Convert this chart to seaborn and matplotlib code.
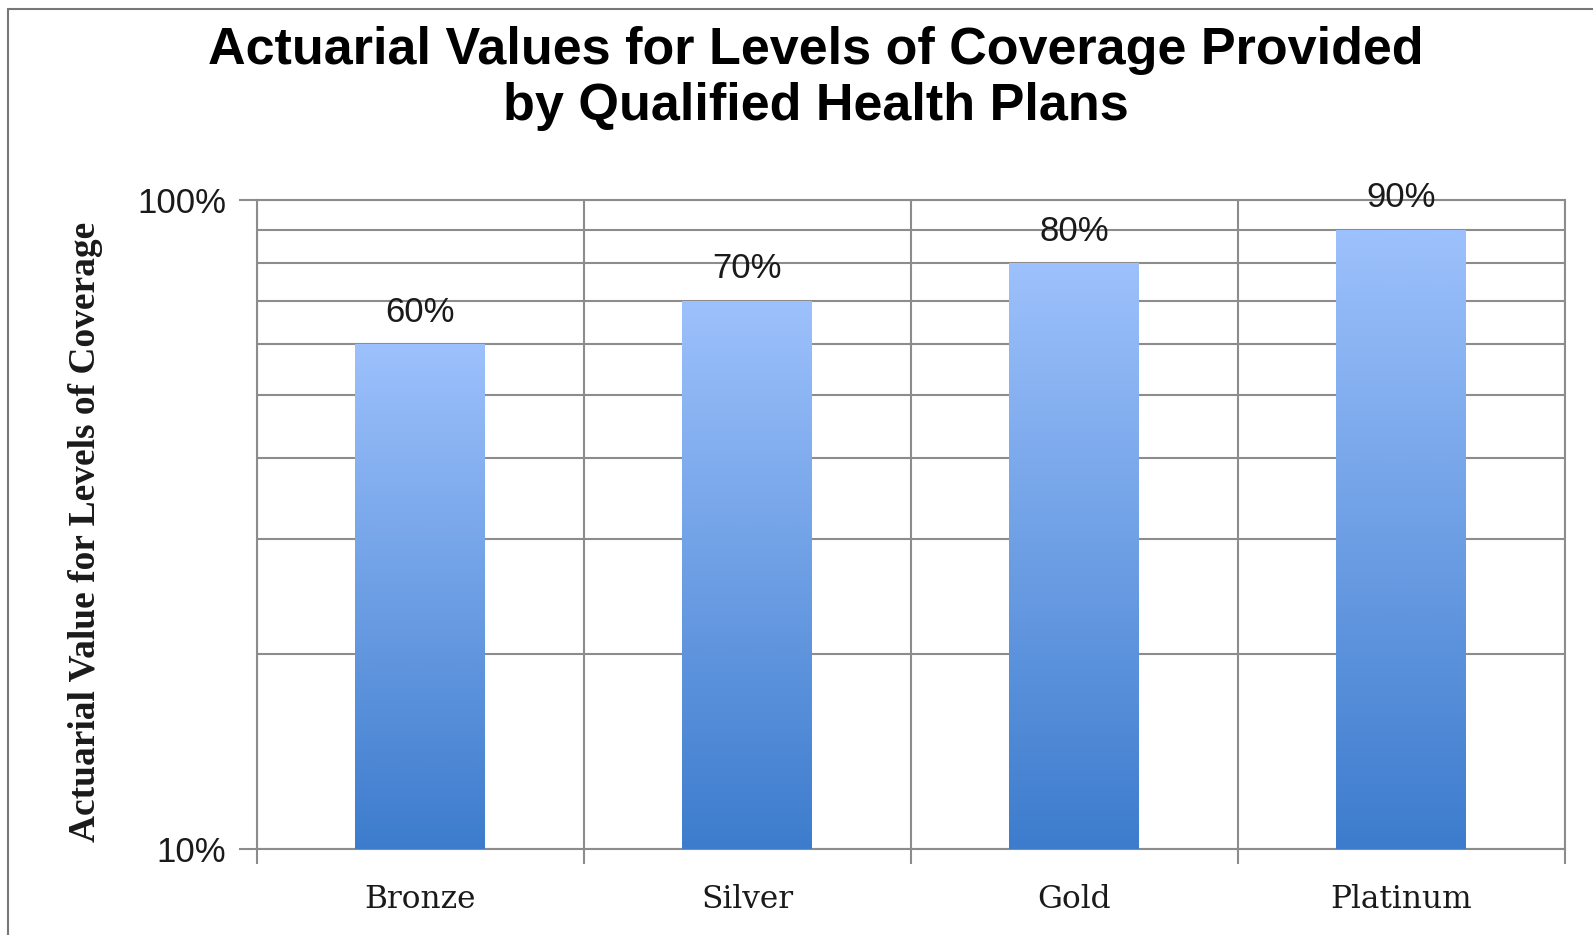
import numpy as np
import pandas as pd
import matplotlib
matplotlib.use("Agg")
import matplotlib.pyplot as plt
from matplotlib.lines import Line2D
from matplotlib.ticker import FixedLocator, LogLocator, NullFormatter
import seaborn as sns

# 数据
plans = ["Bronze", "Silver", "Gold", "Platinum"]
values = [0.60, 0.70, 0.80, 0.90]
value_labels = ["60%", "70%", "80%", "90%"]
y_ticks = [0.1, 1.0]
y_tick_labels = ["10%", "100%"]

title = "Actuarial Values for Levels of Coverage Provided\nby Qualified Health Plans"
y_label = "Actuarial Value for Levels of Coverage"

# 渐变的颜色(上浅下深)
top_color = np.array([157, 193, 252]) / 255
bottom_color = np.array([61, 124, 205]) / 255
grid_color = "#8c8c8c"
text_color = "#1a1a1a"

sns.set_style("white")
plt.rcParams['font.family'] = ['Liberation Sans', 'DejaVu Sans']

df = pd.DataFrame({"plan": plans, "value": values})

fig = plt.figure(figsize=(15.93, 9.35), dpi=100)
ax = fig.add_axes([0.1613, 0.0920, 0.8211, 0.6941])
ax.set_yscale("log")
sns.barplot(data=df, x="plan", y="value", width=0.4, color=bottom_color, ax=ax, zorder=3)

ax.set_ylim(0.1, 1.0)

# 每根柱子画渐变
n = 400
for patch in ax.patches:
    x0 = patch.get_x()
    w = patch.get_width()
    h = patch.get_y() + patch.get_height()
    patch.set_visible(False)
    ys = np.linspace(0.1, h, n)
    t = np.log(ys / 0.1) / np.log(h / 0.1)
    img = bottom_color[None, :] + t[:, None] * (top_color - bottom_color)[None, :]
    img = img[:, None, :]
    ax.imshow(img, extent=(x0, x0 + w, 0.1, h), origin="lower", aspect="auto",
              interpolation="bilinear", zorder=3)

ax.set_xlim(-0.5, 3.5)
ax.set_ylim(0.1, 1.0)

# 数值标签
for i, v in enumerate(values):
    ax.annotate(value_labels[i], (i, v), xytext=(0, 11), textcoords="offset points",
                ha="center", va="bottom", fontsize=25, color=text_color, zorder=5)

# 网格线
ax.yaxis.set_major_locator(FixedLocator(y_ticks))
ax.yaxis.set_minor_locator(LogLocator(base=10, subs=np.arange(2, 10)))
ax.yaxis.set_minor_formatter(NullFormatter())
ax.set_yticklabels(y_tick_labels)
ax.yaxis.grid(True, which="both", color=grid_color, lw=1.5, zorder=0)
ax.set_xticks([-0.5, 0.5, 1.5, 2.5, 3.5], minor=True)
ax.xaxis.grid(True, which="minor", color=grid_color, lw=1.5, zorder=0)
ax.xaxis.grid(False, which="major")
ax.set_axisbelow(True)

ax.tick_params(axis="x", which="major", bottom=False, pad=22)
ax.tick_params(axis="x", which="minor", bottom=True, length=11, width=1.5, color=grid_color,
               direction="out")
ax.tick_params(axis="y", which="major", left=True, length=13, width=1.5, color=grid_color,
               direction="out", labelsize=25, pad=9)
ax.tick_params(axis="y", which="minor", left=False)
for lab in ax.get_xticklabels():
    lab.set_family(["DejaVu Serif"])
    lab.set_fontsize(22.5)
    lab.set_color(text_color)
for lab in ax.get_yticklabels():
    lab.set_color(text_color)

for s in ax.spines.values():
    s.set_color(grid_color)
    s.set_linewidth(1.5)

ax.set_xlabel("")
ax.set_ylabel(y_label, fontsize=27, fontweight="bold", family=["Liberation Serif", "DejaVu Serif"],
              color=text_color)
ax.yaxis.set_label_coords(-0.118, 0.488)

fig.text(0.512, 0.972, title, ha="center", va="top", fontsize=37.5, fontweight="bold",
         linespacing=1.18, color="black")

# 外边框
fig.add_artist(Line2D([8 / 1593, 8 / 1593], [0, 1 - 9 / 935], color="#777777", lw=1.5))
fig.add_artist(Line2D([8 / 1593, 1], [1 - 9 / 935, 1 - 9 / 935], color="#777777", lw=1.5))

plt.savefig("out.png", dpi=100)
